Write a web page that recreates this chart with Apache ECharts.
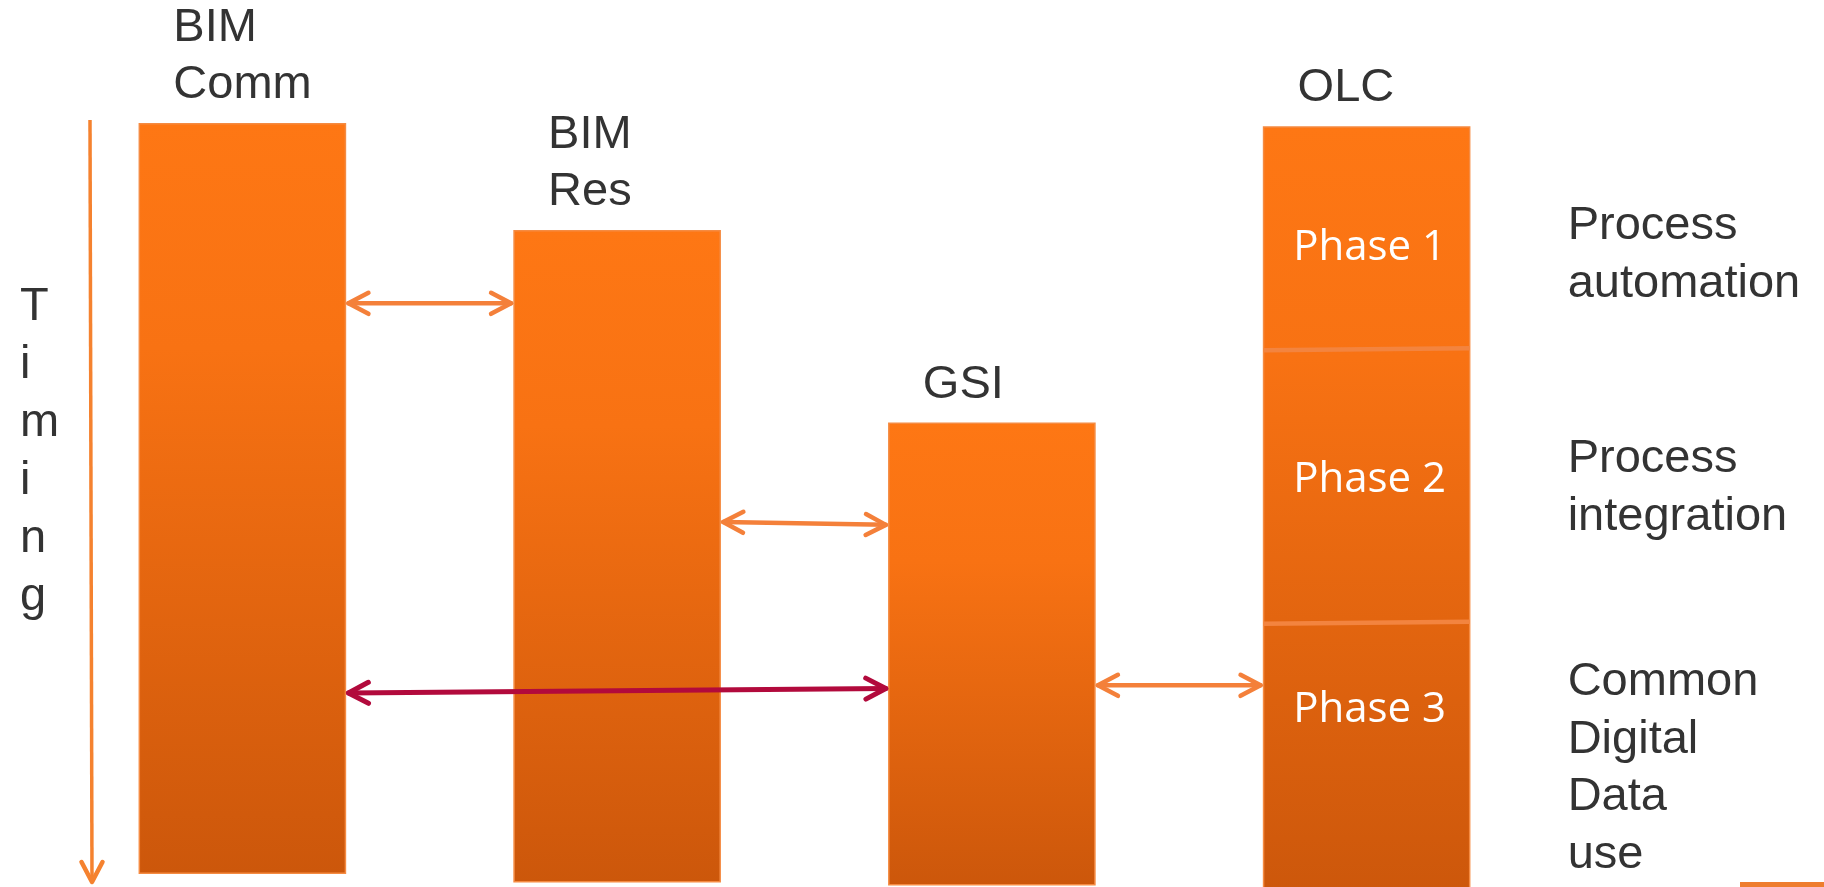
<!DOCTYPE html>
<html>
<head>
<meta charset="utf-8">
<script src="https://cdn.jsdelivr.net/npm/echarts@6/dist/echarts.min.js"></script>
<style>
html, body { margin: 0; padding: 0; background: #ffffff; }
#chart { width: 1824px; height: 887px; }
</style>
</head>
<body>
<div id="chart"></div>
<script>
// ---- data (timing units: 0 = top of the timing arrow, 100 = its tip) ----
const workstreams = ['BIM\nComm', 'BIM\nRes', 'GSI', 'OLC'];
const streamStart = [0.5, 14.5, 39.7, 0.9];
const streamEnd = [98.6, 99.7, 100.1, 102];

const phases = ['Phase 1', 'Phase 2', 'Phase 3'];
const phaseStart = [0.9, 30.0, 65.8];
const phaseEnd = [30.0, 65.8, 102];
const phaseLabelAt = [16.8, 47.1, 77.2];
const phaseGoals = ['Process\nautomation', 'Process\nintegration', 'Common\nDigital\nData\nuse'];
const phaseGoalAt = [17.7, 48.2, 84.9];
const phaseLane = 3;

const linkFrom = [0, 1, 0, 2];
const linkTo = [1, 2, 2, 3];
const linkTimeFrom = [24.0, 52.6, 75.0, 74.0];
const linkTimeTo = [24.0, 53.0, 74.4, 74.0];
const linkKey = [false, false, true, false];

const timingLabel = 'Timing';
const timingStart = 0;
const timingEnd = 100;

// ---- styling / layout ----
const BAR_HALF = 0.275;
const ORANGE = '#F4803A';
const KEY = '#B20A3C';
const TEXT = '#333333';
const SANS = '"Liberation Sans", Arial, sans-serif';

function barFill() {
  return new echarts.graphic.LinearGradient(0, 0, 0, 1, [
    { offset: 0, color: '#FE7714' },
    { offset: 0.3, color: '#F87213' },
    { offset: 1, color: '#CC570B' }
  ]);
}

function arrowHead(tip, ux, uy, color, lw) {
  const L = 20, W = 10.5;
  const nx = -uy, ny = ux;
  return {
    type: 'polyline',
    shape: { points: [
      [tip[0] - ux * L + nx * W, tip[1] - uy * L + ny * W],
      [tip[0], tip[1]],
      [tip[0] - ux * L - nx * W, tip[1] - uy * L - ny * W]
    ] },
    style: { stroke: color, lineWidth: lw, fill: null, lineCap: 'round', lineJoin: 'round' }
  };
}

function renderStream(params, api) {
  const i = params.dataIndex;
  const lane = api.value(0);
  const p0 = api.coord([lane + 0.5 - BAR_HALF, api.value(1)]);
  const p1 = api.coord([lane + 0.5 + BAR_HALF, api.value(2)]);
  return {
    type: 'group',
    children: [
      {
        type: 'rect',
        shape: { x: p0[0], y: p0[1], width: p1[0] - p0[0], height: p1[1] - p0[1] },
        style: { fill: barFill(), stroke: '#F58B42', lineWidth: 1.5 }
      },
      {
        type: 'text',
        x: p0[0] + 34,
        y: p0[1] - 10,
        style: {
          text: workstreams[i], fill: TEXT, font: '47px ' + SANS,
          lineHeight: 57, align: 'left', verticalAlign: 'bottom'
        }
      }
    ]
  };
}

function renderPhase(params, api) {
  const i = params.dataIndex;
  const lane = api.value(0);
  const left = api.coord([lane + 0.5 - BAR_HALF, api.value(1)]);
  const right = api.coord([lane + 0.5 + BAR_HALF, api.value(1)]);
  const mid = api.coord([lane + 0.5, api.value(3)]);
  const goal = api.coord([lane + 0.5 + BAR_HALF, api.value(4)]);
  const children = [];
  if (i > 0) {
    children.push({
      type: 'line',
      shape: { x1: left[0], y1: left[1] + 1, x2: right[0], y2: right[1] - 1 },
      style: { stroke: '#F3843F', lineWidth: 4.5 }
    });
  }
  children.push({
    type: 'text', x: mid[0] + 3, y: mid[1],
    style: { text: phases[i], fill: '#ffffff', font: '42px "Open Sans", "Noto Sans", sans-serif',
      align: 'center', verticalAlign: 'middle' }
  });
  children.push({
    type: 'text', x: goal[0] + 98, y: goal[1],
    style: { text: phaseGoals[i], fill: TEXT, font: '47px ' + SANS, lineHeight: 57.5,
      align: 'left', verticalAlign: 'middle' }
  });
  return { type: 'group', children: children };
}

function renderLink(params, api) {
  const i = params.dataIndex;
  const a = api.coord([api.value(0) + 0.5 + BAR_HALF, api.value(2)]);
  const b = api.coord([api.value(1) + 0.5 - BAR_HALF, api.value(3)]);
  const dx = b[0] - a[0], dy = b[1] - a[1];
  const len = Math.hypot(dx, dy);
  const ux = dx / len, uy = dy / len;
  const color = linkKey[i] ? KEY : ORANGE;
  const lw = linkKey[i] ? 5 : 4.5;
  const a2 = [a[0] + ux * 3, a[1] + uy * 3];
  const b2 = [b[0] - ux * 3, b[1] - uy * 3];
  return {
    type: 'group',
    children: [
      { type: 'line', shape: { x1: a2[0], y1: a2[1], x2: b2[0], y2: b2[1] },
        style: { stroke: color, lineWidth: lw, lineCap: 'round' } },
      arrowHead(b2, ux, uy, color, lw),
      arrowHead(a2, -ux, -uy, color, lw)
    ]
  };
}

function renderTiming(params, api) {
  const x = params.coordSys.x + 35;
  const y0 = api.coord([0, api.value(0)])[1];
  const y1 = api.coord([0, api.value(1)])[1] - 2;
  const labelY = api.coord([0, 43.5])[1];
  return {
    type: 'group',
    children: [
      { type: 'line', shape: { x1: x, y1: y0, x2: x + 2, y2: y1 },
        style: { stroke: '#F5822F', lineWidth: 3.5, lineCap: 'butt' } },
      arrowHead([x + 2, y1], 0, 1, '#F5822F', 4.5),
      { type: 'text', x: 20, y: labelY,
        style: { text: timingLabel.split('').join('\n'), fill: TEXT, font: '47px ' + SANS,
          lineHeight: 58, align: 'left', verticalAlign: 'middle' } }
    ]
  };
}

const chart = echarts.init(document.getElementById('chart'));
chart.setOption({
  animation: false,
  backgroundColor: '#ffffff',
  grid: { left: 55, right: 270, top: 120, bottom: 3 },
  xAxis: { type: 'value', min: 0, max: 4, show: false },
  yAxis: { type: 'value', min: 0, max: 100, inverse: true, show: false },
  graphic: [
    { type: 'rect', right: 0, bottom: 0, shape: { width: 84, height: 5 }, style: { fill: '#EE7D2E' } }
  ],
  series: [
    {
      type: 'custom', name: 'timing', renderItem: renderTiming, silent: true,
      data: [[timingStart, timingEnd]], z: 1
    },
    {
      type: 'custom', name: 'workstreams', renderItem: renderStream, silent: true,
      data: workstreams.map((w, i) => [i, streamStart[i], streamEnd[i]]), z: 2
    },
    {
      type: 'custom', name: 'phases', renderItem: renderPhase, silent: true,
      data: phases.map((p, i) => [phaseLane, phaseStart[i], phaseEnd[i], phaseLabelAt[i], phaseGoalAt[i]]), z: 3
    },
    {
      type: 'custom', name: 'links', renderItem: renderLink, silent: true,
      data: linkFrom.map((f, i) => [f, linkTo[i], linkTimeFrom[i], linkTimeTo[i]]), z: 4
    }
  ]
});
</script>
</body>
</html>
